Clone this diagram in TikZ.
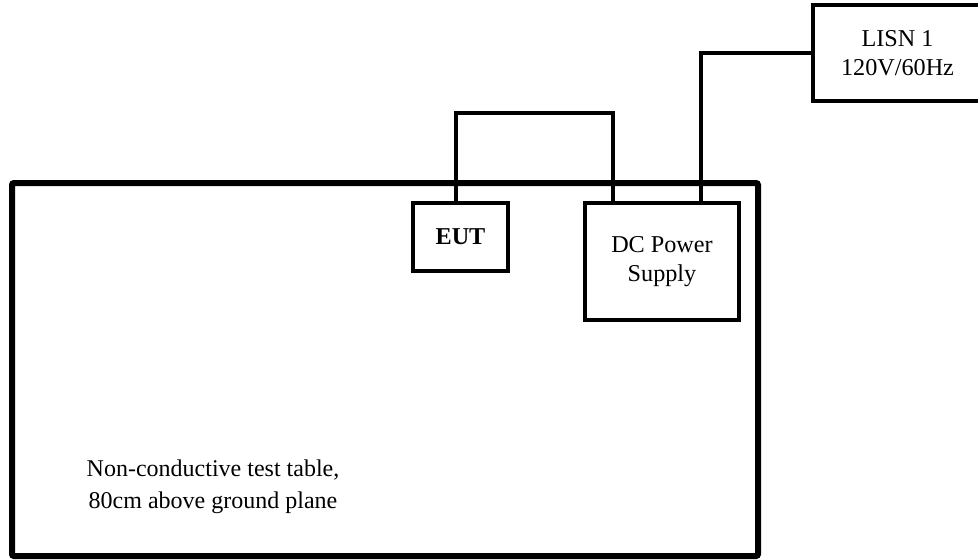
\documentclass[tikz,border=0pt]{standalone}
\usepackage{fontspec}
\setmainfont{Liberation Serif}
\usetikzlibrary{positioning,calc}
\definecolor{ink}{RGB}{0,0,0}
\tikzset{
  x=0.5pt,y=-0.5pt,
  unit/.style={draw=ink,line width=2pt,inner sep=0pt,align=center,
    font=\fontsize{12.1}{14.2}\selectfont},
  bench/.style={draw=ink,line width=3pt,inner sep=0pt,rounded corners=1pt},
  wire/.style={draw=ink,line width=2pt},
  tag/.style={font=\fontsize{12}{16}\selectfont,align=center,inner sep=0pt},
}
\begin{document}
\begin{tikzpicture}
    \useasboundingbox (0,0) rectangle (978,559);
    \node[bench,minimum width=373pt,minimum height=186.5pt] (table) at (385,369.5) {};
    \node[tag] (note) at (213,487) {Non-conductive test table,\\80cm above ground plane};
    \node[unit,minimum width=47.5pt,minimum height=34pt] (eut) at (460.5,237) {\textbf{EUT}};
    \node[unit,minimum width=77pt,minimum height=58.5pt] (psu) at (662,261.5) {DC Power\\Supply};
    \node[unit,minimum width=84.5pt,minimum height=48pt] (lisn) at (897.5,53) {\raisebox{-2pt}{LISN 1}\\\raisebox{-2pt}{120V/60Hz}};
    \draw[wire] ([xshift=-2.25pt]eut.north) -- ++(0,-88) -| ([xshift=-24.5pt]psu.north);
    \draw[wire] ([xshift=19.5pt]psu.north) |- (lisn.west);
  \end{tikzpicture}
\end{document}
